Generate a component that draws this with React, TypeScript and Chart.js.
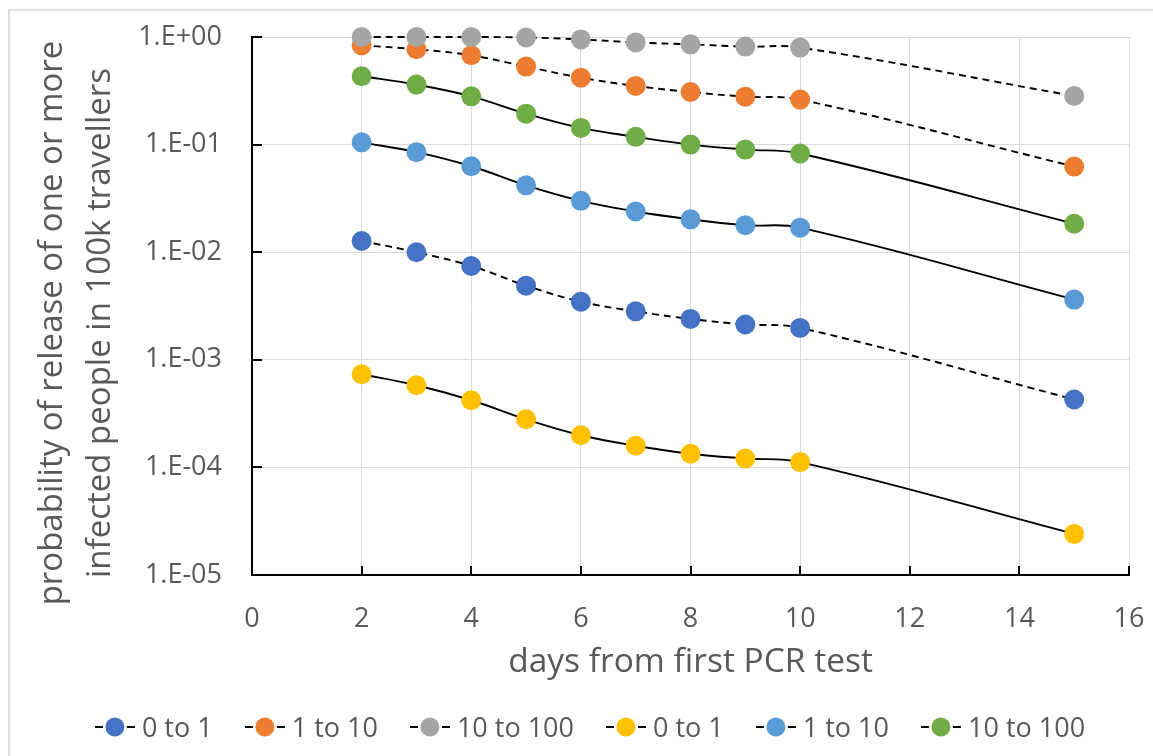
import React, { useEffect, useRef } from "react";
import { Chart, registerables } from "chart.js";

Chart.register(...registerables);

const days = [2, 3, 4, 5, 6, 7, 8, 9, 10, 15];

const seriesNames = ["0 to 1", "1 to 10", "10 to 100", "0 to 1", "1 to 10", "10 to 100"];
const seriesColors = ["#4472C4", "#ED7D31", "#A5A5A5", "#FFC000", "#5B9BD5", "#70AD47"];
const seriesDashed = [true, true, true, false, false, false];

const darkBlue = [0.0127, 0.01, 0.00745, 0.00489, 0.00347, 0.00282, 0.0024, 0.00213, 0.00198, 0.000428];
const orange = [0.837, 0.769, 0.676, 0.531, 0.419, 0.351, 0.308, 0.279, 0.262, 0.0625];
const gray = [1.0, 1.0, 1.0, 0.99, 0.95, 0.89, 0.855, 0.814, 0.797, 0.283];
const yellow = [0.000734, 0.00058, 0.000421, 0.00028, 0.000199, 0.000159, 0.000134, 0.000121, 0.000112, 0.0000241];
const lightBlue = [0.105, 0.0851, 0.0629, 0.0418, 0.03, 0.0239, 0.0202, 0.0178, 0.0169, 0.00363];
const green = [0.432, 0.361, 0.281, 0.194, 0.143, 0.118, 0.1, 0.0899, 0.0826, 0.0184];

const seriesValues = [darkBlue, orange, gray, yellow, lightBlue, green];

const yTickValues = [1e-5, 1e-4, 1e-3, 1e-2, 1e-1, 1];
const yTickLabels = ["1.E-05", "1.E-04", "1.E-03", "1.E-02", "1.E-01", "1.E+00"];
const xTickValues = [0, 2, 4, 6, 8, 10, 12, 14, 16];
const xTickLabels = ["0", "2", "4", "6", "8", "10", "12", "14", "16"];

const yTitle = ["probability of release of one or more", "infected people in 100k travellers"];
const xTitle = "days from first PCR test";

const FONT = "'Open Sans', 'Liberation Sans', sans-serif";
const TEXT = "#595959";

const innerTicks = {
  id: "innerTicks",
  afterDatasetsDraw(chart: any) {
    const { ctx, chartArea, scales } = chart;
    const x = scales.x;
    const y = scales.y;
    ctx.save();
    ctx.strokeStyle = "#000";
    ctx.lineWidth = 2;
    ctx.beginPath();
    x.ticks.forEach((t: any) => {
      const px = Math.round(x.getPixelForValue(t.value));
      ctx.moveTo(px, chartArea.bottom);
      ctx.lineTo(px, chartArea.bottom - 9);
    });
    y.ticks.forEach((t: any) => {
      const py = Math.round(y.getPixelForValue(t.value));
      ctx.moveTo(chartArea.left, py);
      ctx.lineTo(chartArea.left + 10, py);
    });
    ctx.stroke();
    ctx.restore();
  },
};

// Y-axis title (two lines, rotated), centred slightly below the plot middle as in the reference
const yTitlePlugin = {
  id: "yTitlePlugin",
  afterDraw(chart: any) {
    const { ctx, chartArea } = chart;
    const cy = (chartArea.top + chartArea.bottom) / 2 + 17;
    ctx.save();
    ctx.fillStyle = TEXT;
    ctx.font = `33px ${FONT}`;
    ctx.textAlign = "center";
    ctx.textBaseline = "middle";
    yTitle.forEach((line, i) => {
      ctx.save();
      ctx.translate(53 + i * 48, cy);
      ctx.rotate(-Math.PI / 2);
      ctx.fillText(line, 0, 0);
      ctx.restore();
    });
    ctx.restore();
  },
};

export default function App() {
  const canvasRef = useRef<HTMLCanvasElement | null>(null);

  useEffect(() => {
    if (!canvasRef.current) return;
    Chart.defaults.font.family = FONT;
    const datasets = seriesValues.map((vals, i) => ({
      label: seriesNames[i],
      data: days.map((d, j) => ({ x: d, y: vals[j] })),
      borderColor: "#000",
      borderWidth: 1.9,
      borderDash: seriesDashed[i] ? [7, 5] : [],
      backgroundColor: seriesColors[i],
      pointBackgroundColor: seriesColors[i],
      pointBorderColor: seriesColors[i],
      pointBorderWidth: 0,
      pointRadius: 10,
      pointHoverRadius: 10,
      tension: 0.4,
      clip: false as any,
      order: 6 - i,
    }));

    const chart = new Chart(canvasRef.current, {
      type: "line",
      data: { datasets },
      plugins: [innerTicks, yTitlePlugin],
      options: {
        animation: false,
        responsive: false,
        devicePixelRatio: 1,
        layout: { autoPadding: false, padding: { left: 0, top: 37, right: 24, bottom: 51 } },
        plugins: {
          legend: { display: false },
          tooltip: { enabled: false },
        },
        scales: {
          x: {
            type: "linear",
            min: 0,
            max: 16,
            afterBuildTicks: (s: any) => {
              s.ticks = xTickValues.map((v) => ({ value: v }));
            },
            afterFit: (s: any) => {
              s.height = 130;
              s.paddingLeft = 0;
              s.paddingRight = 0;
            },
            ticks: {
              callback: (v: any) => {
                const i = xTickValues.indexOf(Number(v));
                return i >= 0 ? xTickLabels[i] : "";
              },
              padding: 28,
              color: TEXT,
              font: { size: 27, family: FONT },
              maxRotation: 0,
            },
            grid: { color: "#d9d9d9", lineWidth: 1, drawTicks: false },
            border: { display: true, color: "#000", width: 2 },
            title: {
              display: true,
              text: xTitle,
              color: TEXT,
              font: { size: 33.5, family: FONT },
              padding: { top: 0, bottom: 22 },
            },
          },
          y: {
            type: "logarithmic",
            min: 1e-5,
            max: 1,
            afterBuildTicks: (s: any) => {
              s.ticks = yTickValues.map((v) => ({ value: v }));
            },
            afterFit: (s: any) => {
              s.width = 252;
              s.paddingTop = 0;
              s.paddingBottom = 0;
            },
            ticks: {
              callback: (v: any) => {
                const i = yTickValues.findIndex((t) => Math.abs(Math.log10(t) - Math.log10(Number(v))) < 1e-6);
                return i >= 0 ? yTickLabels[i] : "";
              },
              padding: 30,
              color: TEXT,
              font: { size: 27, family: FONT },
            },
            grid: { color: "#d9d9d9", lineWidth: 1, drawTicks: false },
            border: { display: true, color: "#000", width: 2 },
            title: { display: false },
          },
        },
      } as any,
    });
    return () => chart.destroy();
  }, []);

  return (
    <div
      style={{
        position: "absolute",
        left: 0,
        top: 0,
        width: 1153,
        height: 756,
        overflow: "hidden",
        background: "#fff",
        fontFamily: FONT,
      }}
    >
      <div
        style={{
          position: "absolute",
          left: 8,
          top: 9,
          width: 1300,
          height: 900,
          borderLeft: "2px solid #e0e0e0",
          borderTop: "2px solid #e0e0e0",
        }}
      />
      <canvas
        ref={canvasRef}
        width={1153}
        height={756}
        style={{ position: "absolute", left: 0, top: 0, width: 1153, height: 756 }}
      />
      <div
        style={{
          position: "absolute",
          left: 590,
          top: 710,
          transform: "translateX(-50%)",
          display: "flex",
          alignItems: "center",
          gap: 32,
          height: 34,
          whiteSpace: "nowrap",
          color: TEXT,
          fontSize: 27,
          lineHeight: "34px",
        }}
      >
        {seriesNames.map((name, i) => (
          <div key={i} style={{ display: "flex", alignItems: "center" }}>
            <svg width={40} height={20} style={{ display: "block" }}>
              <line x1={0} y1={10} x2={8} y2={10} stroke="#000" strokeWidth={2} />
              <line x1={32} y1={10} x2={40} y2={10} stroke="#000" strokeWidth={2} />
              <circle cx={20} cy={10} r={9.5} fill={seriesColors[i]} />
            </svg>
            <span style={{ marginLeft: 7 }}>{name}</span>
          </div>
        ))}
      </div>
    </div>
  );
}
